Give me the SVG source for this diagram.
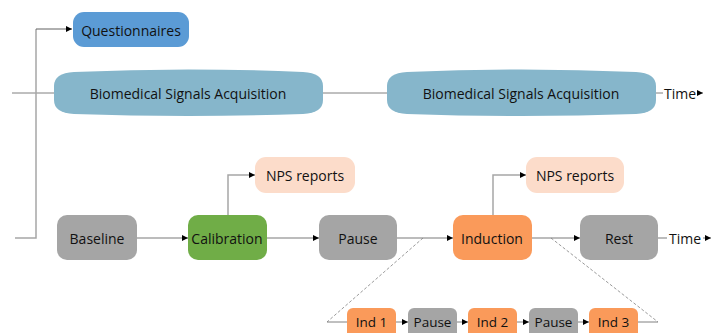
<svg xmlns="http://www.w3.org/2000/svg" width="719" height="333" viewBox="0 0 719 333">
<style>
text{font-family:"Open Sans","Liberation Sans",sans-serif;font-size:14px;fill:#111;text-anchor:middle;dominant-baseline:central}
.small{font-size:13.5px}
.c{stroke:#a6a6a6;stroke-width:1.5;fill:none}
.t{stroke:#808080;stroke-width:1;fill:none}
.d{stroke:#808080;stroke-width:0.8;stroke-dasharray:3,2;fill:none}
.gray{fill:#a5a5a5}
.orange{fill:#fa9a5a}
.nps{fill:#fcdcca}
.bsa{fill:#86b6cb}
</style>
<defs>
<marker id="ah" markerUnits="userSpaceOnUse" markerWidth="7" markerHeight="6" refX="6" refY="3" orient="auto">
<path d="M0,0 L6,3 L0,6 z" fill="#000"/>
</marker>
</defs>
<g id="connectors">
<line class="t" x1="12" y1="93" x2="54" y2="93"/>
<line class="t" x1="323" y1="93" x2="387" y2="93"/>
<line class="t" x1="656" y1="93" x2="663" y2="93"/>
<line class="t" x1="697" y1="93" x2="703" y2="93" marker-end="url(#ah)"/>
<polyline class="c" points="15,238 36,238 36,29"/>
<line x1="36" y1="29" x2="72" y2="29" stroke="#606060" stroke-width="1" marker-end="url(#ah)"/>
<line class="c" x1="137" y1="238" x2="188" y2="238" marker-end="url(#ah)"/>
<line class="c" x1="267" y1="238" x2="319" y2="238" marker-end="url(#ah)"/>
<line class="c" x1="397" y1="238" x2="453" y2="238" marker-end="url(#ah)"/>
<line class="c" x1="532" y1="238" x2="580" y2="238" marker-end="url(#ah)"/>
<line class="c" x1="658" y1="238" x2="667" y2="238"/>
<line class="c" x1="703" y1="238" x2="711" y2="238" marker-end="url(#ah)"/>
<polyline class="c" points="228,215 228,175 255,175" marker-end="url(#ah)"/>
<polyline class="c" points="493,215 493,175 526,175" marker-end="url(#ah)"/>
<line class="d" x1="423" y1="238" x2="327" y2="322"/>
<line class="d" x1="551" y1="238" x2="658" y2="322"/>
<line class="t" x1="327" y1="322" x2="347" y2="322"/>
<line class="t" x1="396" y1="322" x2="408" y2="322" marker-end="url(#ah)"/>
<line class="t" x1="457" y1="322" x2="468" y2="322" marker-end="url(#ah)"/>
<line class="t" x1="517" y1="322" x2="529" y2="322" marker-end="url(#ah)"/>
<line class="t" x1="578" y1="322" x2="589" y2="322" marker-end="url(#ah)"/>
<line class="t" x1="638" y1="322" x2="658" y2="322"/>
</g>
<g id="questionnaires">
<rect x="73" y="12" width="116" height="35" rx="11" fill="#5b9bd5"/>
<text x="131" y="30">Questionnaires</text>
</g>
<g id="bsa1">
<path class="bsa" d="M74,72 Q188,67 303,72 Q323,73 323,86 L323,100 Q323,113 303,114 Q188,118 74,114 Q54,113 54,100 L54,86 Q54,73 74,72 Z"/>
<text x="188" y="93">Biomedical Signals Acquisition</text>
</g>
<g id="bsa2">
<path class="bsa" d="M407,72 Q521,67 636,72 Q656,73 656,86 L656,100 Q656,113 636,114 Q521,118 407,114 Q387,113 387,100 L387,86 Q387,73 407,72 Z"/>
<text x="521" y="93">Biomedical Signals Acquisition</text>
</g>
<g id="time1"><text x="680" y="93">Time</text></g>
<g id="baseline">
<rect class="gray" x="57" y="215" width="80" height="45" rx="10"/>
<text x="97" y="238">Baseline</text>
</g>
<g id="calibration">
<rect x="188" y="215" width="79" height="45" rx="10" fill="#70ad47"/>
<text x="227" y="238">Calibration</text>
</g>
<g id="pause">
<rect class="gray" x="319" y="215" width="78" height="45" rx="10"/>
<text x="358" y="238">Pause</text>
</g>
<g id="induction">
<rect class="orange" x="453" y="215" width="79" height="45" rx="10"/>
<text x="492" y="238">Induction</text>
</g>
<g id="rest">
<rect class="gray" x="580" y="215" width="78" height="45" rx="10"/>
<text x="619" y="238">Rest</text>
</g>
<g id="time2"><text x="685" y="238">Time</text></g>
<g id="nps1">
<rect class="nps" x="255" y="157" width="100" height="36" rx="11"/>
<text x="305" y="175">NPS reports</text>
</g>
<g id="nps2">
<rect class="nps" x="526" y="157" width="98" height="36" rx="11"/>
<text x="575" y="175">NPS reports</text>
</g>
<g id="ind1">
<rect class="orange" x="347" y="308" width="49" height="30" rx="6"/>
<text class="small" x="371.5" y="322">Ind 1</text>
</g>
<g id="pause1">
<rect class="gray" x="408" y="308" width="49" height="30" rx="6"/>
<text class="small" x="432.5" y="322">Pause</text>
</g>
<g id="ind2">
<rect class="orange" x="468" y="308" width="49" height="30" rx="6"/>
<text class="small" x="492.5" y="322">Ind 2</text>
</g>
<g id="pause2">
<rect class="gray" x="529" y="308" width="49" height="30" rx="6"/>
<text class="small" x="553.5" y="322">Pause</text>
</g>
<g id="ind3">
<rect class="orange" x="589" y="308" width="49" height="30" rx="6"/>
<text class="small" x="613.5" y="322">Ind 3</text>
</g>
</svg>
